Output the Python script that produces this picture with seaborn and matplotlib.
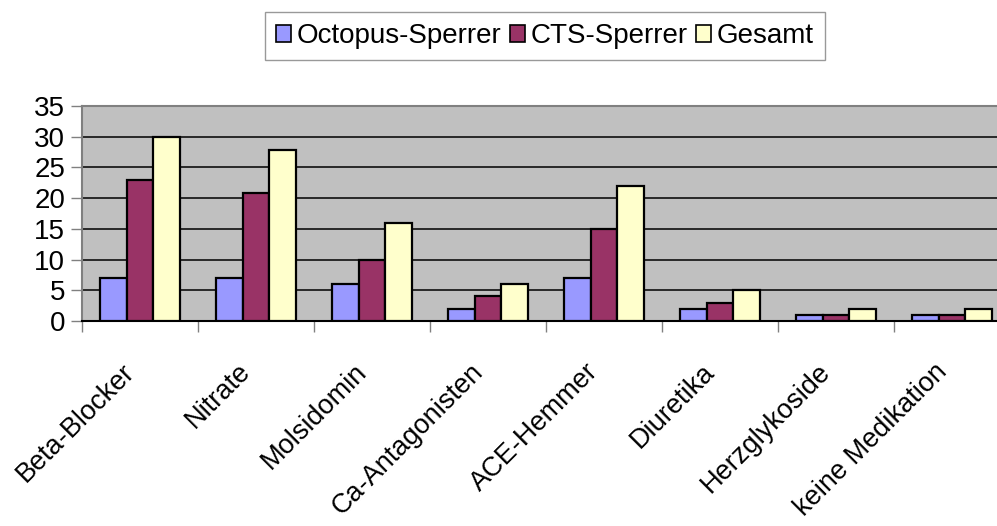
import matplotlib
matplotlib.use("Agg")
import matplotlib.pyplot as plt
import numpy as np
import pandas as pd
import seaborn as sns

# Werte
kategorien = ["Beta-Blocker", "Nitrate", "Molsidomin", "Ca-Antagonisten",
              "ACE-Hemmer", "Diuretika", "Herzglykoside", "keine Medikation"]
octopus = [7, 7, 6, 2, 7, 2, 1, 1]
cts = [23, 20.8, 10, 4, 15, 3, 1, 1]
gesamt = [30, 27.8, 16, 6, 22, 5, 2, 2]
serien = ["Octopus-Sperrer", "CTS-Sperrer", "Gesamt"]
farben = ["#9999FF", "#993366", "#FFFFCC"]

df = pd.DataFrame({
    "Kategorie": kategorien * 3,
    "Serie": np.repeat(serien, len(kategorien)),
    "Wert": octopus + cts + gesamt,
})

sns.set_style("white")
plt.rcParams["font.family"] = ["Liberation Sans", "DejaVu Sans"]
plt.rcParams["text.color"] = "black"
plt.rcParams["xtick.color"] = "black"
plt.rcParams["ytick.color"] = "black"

fig = plt.figure(figsize=(9.97, 5.26), dpi=100)
ax = fig.add_axes([82 / 997, 1 - 321 / 526, 928 / 997, 215 / 526])

sns.barplot(data=df, x="Kategorie", y="Wert", hue="Serie", order=kategorien,
            hue_order=serien, palette=farben, width=0.69, saturation=1,
            edgecolor="black", linewidth=1.6, ax=ax, zorder=3)

ax.set_facecolor("#C0C0C0")
ax.set_ylim(0, 35)
ax.set_xlim(-0.5, len(kategorien) - 0.5)
ax.set_yticks(range(0, 36, 5))
ax.yaxis.grid(True, color="black", linewidth=1.1, zorder=1)
ax.set_axisbelow(True)
ax.set_xlabel("")
ax.set_ylabel("")

# Striche an den Kategoriegrenzen, Beschriftung in der Mitte
ax.set_xticks(np.arange(-0.5, len(kategorien), 1.0))
ax.set_xticklabels([])
ax.set_xticks(np.arange(len(kategorien)), minor=True)
ax.set_xticklabels(kategorien, minor=True, rotation=45, ha="right", fontsize=19.5)
ax.tick_params(axis="x", which="major", length=8, color="#808080", width=1, bottom=True)
ax.tick_params(axis="x", which="minor", length=0, pad=27, labelcolor="black")
ax.tick_params(axis="y", length=8, color="#808080", width=1, left=True, labelsize=20,
               pad=4, labelcolor="black")

for s in ["top", "left", "bottom"]:
    ax.spines[s].set_color("#808080")
    ax.spines[s].set_linewidth(1.5)
ax.spines["bottom"].set_color("black")
ax.spines["right"].set_visible(False)

ax.legend_.remove()
handles = [plt.Rectangle((0, 0), 1, 1, facecolor=c, edgecolor="black", linewidth=1.2)
           for c in farben]
leg = fig.legend(handles, serien, loc="center", bbox_to_anchor=(545 / 997, 1 - 36 / 526),
                 ncol=3, fontsize=20, frameon=True, fancybox=False, edgecolor="#808080",
                 handlelength=0.55, handleheight=0.55, handletextpad=0.2, columnspacing=0.3,
                 borderpad=0.4)
for t in leg.get_texts():
    t.set_color("black")

fig.savefig("out.png", dpi=100, facecolor="white")
